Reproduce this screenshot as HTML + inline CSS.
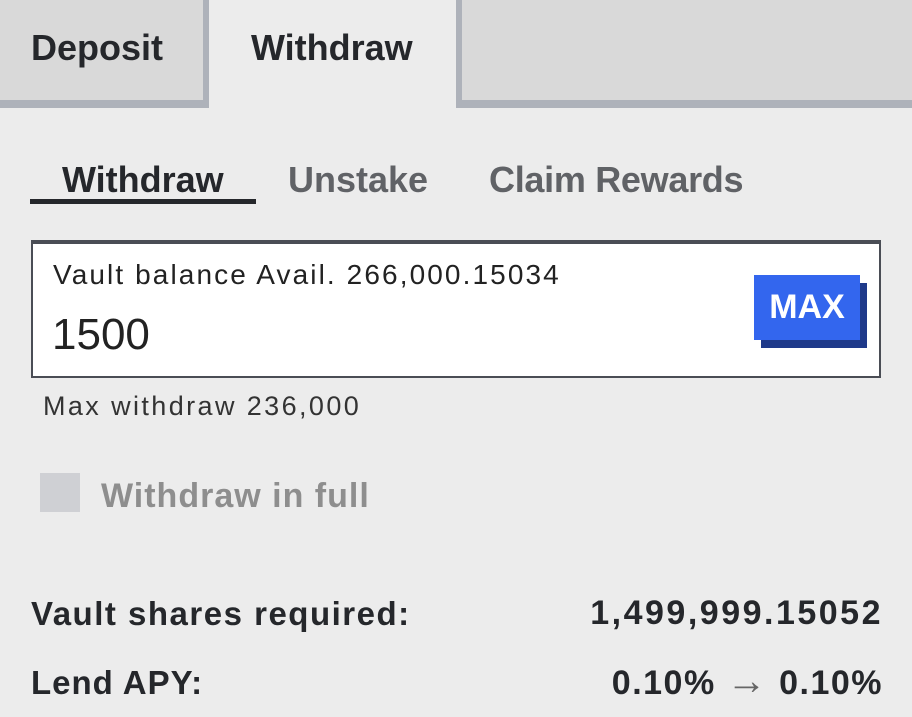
<!DOCTYPE html>
<html><head><meta charset="utf-8"><style>
body{margin:0;width:912px;height:717px;background:#ececec;font-family:"Liberation Sans",sans-serif;position:relative;overflow:hidden}
.a{position:absolute;line-height:1;white-space:nowrap}
.b{font-weight:bold}
</style></head><body>
<div class="a" style="left:0;top:0;width:203px;height:100px;background:#d9d9d9;border-right:6px solid #aeb2ba;border-bottom:8px solid #aeb2ba"></div>
<div class="a b" style="left:31px;top:30px;font-size:36px;color:#25272b">Deposit</div>
<div class="a b" style="left:251px;top:30px;font-size:36px;color:#25272b">Withdraw</div>
<div class="a" style="left:456px;top:0;width:456px;height:100px;background:#d9d9d9;border-left:6px solid #aeb2ba;border-bottom:8px solid #aeb2ba"></div>

<div class="a b" style="left:62px;top:162px;font-size:36px;color:#25272b">Withdraw</div>
<div class="a" style="left:30px;top:199px;width:226px;height:5px;background:#25272b"></div>
<div class="a b" style="left:288px;top:162px;font-size:36px;color:#606266">Unstake</div>
<div class="a b" style="left:489px;top:162px;font-size:36px;color:#606266;letter-spacing:-0.3px">Claim Rewards</div>

<div class="a" style="left:31px;top:240px;width:846px;height:132px;background:#fff;border:2px solid #4a4d55;border-top-width:4px"></div>
<div class="a" style="left:53px;top:261px;font-size:28px;color:#222;letter-spacing:2.1px">Vault balance Avail. 266,000.15034</div>
<div class="a" style="left:52px;top:313px;font-size:44px;color:#222">1500</div>
<div class="a" style="left:761px;top:283px;width:106px;height:65px;background:#1f3a8a"></div>
<div class="a b" style="left:754px;top:275px;width:106px;height:65px;background:#3366ee;color:#fff;font-size:34px;text-align:center;line-height:65px">MAX</div>

<div class="a" style="left:43px;top:393px;font-size:27px;color:#333;letter-spacing:2.4px">Max withdraw 236,000</div>

<div class="a" style="left:40px;top:473px;width:40px;height:39px;background:#cfd0d4"></div>
<div class="a b" style="left:101px;top:479px;font-size:34px;color:#8e8e8e;letter-spacing:1px">Withdraw in full</div>

<div class="a b" style="left:31px;top:597px;font-size:33px;color:#25272b;letter-spacing:1.5px">Vault shares required:</div>
<div class="a b" style="right:29px;top:596px;font-size:34px;color:#25272b;letter-spacing:2.5px">1,499,999.15052</div>
<div class="a b" style="left:31px;top:666px;font-size:33px;color:#25272b;letter-spacing:1px">Lend APY:</div>
<div class="a b" style="right:29px;top:666px;font-size:34px;color:#25272b;letter-spacing:1.5px">0.10% <span style="font-weight:normal;color:#666;font-size:40px;line-height:0">→</span> 0.10%</div>
</body></html>
